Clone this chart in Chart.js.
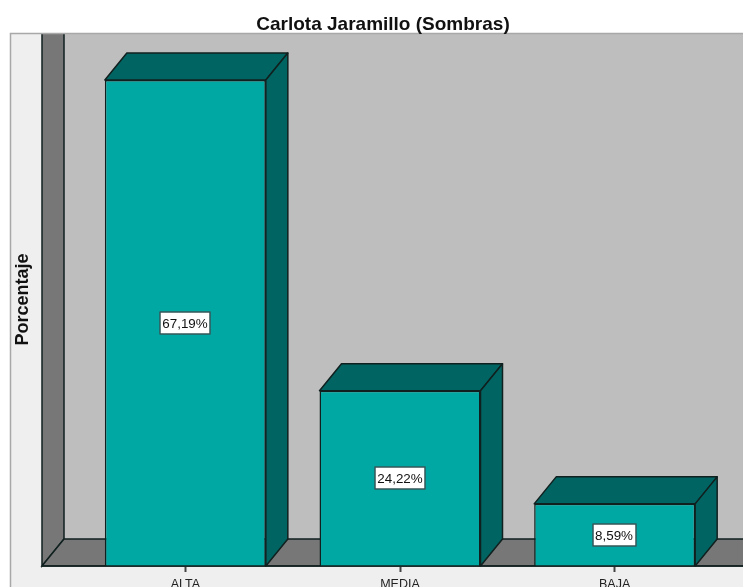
<!DOCTYPE html>
<html>
<head>
<meta charset="utf-8">
<script src="https://cdn.jsdelivr.net/npm/chart.js@4"></script>
<style>
html, body { margin: 0; padding: 0; background: #fff; overflow: hidden; }
canvas { display: block; }
</style>
</head>
<body>
<canvas id="grafico" width="743" height="587"></canvas>
<script>
const categorias = ['ALTA', 'MEDIA', 'BAJA'];
const porcentajes = [67.19, 24.22, 8.59];
const titulo = 'Carlota Jaramillo (Sombras)';
const tituloY = 'Porcentaje';

const fx = 22; // profundidad 3D
const fy = 27;
const linea = '#10201f';

function poligono(ctx, puntos, relleno) {
    ctx.beginPath();
    puntos.forEach((p, i) => i ? ctx.lineTo(p[0], p[1]) : ctx.moveTo(p[0], p[1]));
    ctx.closePath();
    ctx.fillStyle = relleno;
    ctx.fill();
    ctx.stroke();
}

const fondo3d = {
    id: 'fondo3d',
    beforeDraw(chart) {
        const ctx = chart.ctx;
        const top = chart.chartArea.top;
        const base = chart.scales.y.getPixelForValue(0);
        const ancho = chart.width;
        const pared = chart.chartArea.left - 36;
        ctx.save();
        // panel claro
        ctx.fillStyle = '#efefef';
        ctx.fillRect(10, top, ancho - 10, chart.height - top);
        // pared del fondo
        ctx.fillStyle = '#bebebe';
        ctx.fillRect(pared + fx, top, ancho - pared - fx, base - top);
        ctx.strokeStyle = linea;
        ctx.lineWidth = 1.5;
        poligono(ctx, [[pared, top - 4], [pared + fx, top - 4], [pared + fx, base - fy], [pared, base]], '#777777');
        poligono(ctx, [[pared, base], [pared + fx, base - fy], [ancho + 2, base - fy], [ancho + 2, base]], '#777777');
        // tapa lo que sobresale arriba y dibuja el marco
        ctx.fillStyle = '#fff';
        ctx.fillRect(pared - 2, top - 6, fx + 4, 6);
        ctx.strokeStyle = '#a8a8a8';
        ctx.beginPath();
        ctx.moveTo(10.5, chart.height);
        ctx.lineTo(10.5, top + 0.5);
        ctx.lineTo(ancho, top + 0.5);
        ctx.stroke();
        ctx.restore();
    }
};

const barras3d = {
    id: 'barras3d',
    afterDatasetsDraw(chart) {
        const ctx = chart.ctx;
        const meta = chart.getDatasetMeta(0);
        const pared = chart.chartArea.left - 36;
        const base = chart.scales.y.getPixelForValue(0);
        ctx.save();
        ctx.strokeStyle = linea;
        ctx.lineWidth = 1.5;
        ctx.lineJoin = 'round';
        meta.data.forEach((barra, i) => {
            const izq = barra.x - barra.width / 2;
            const der = barra.x + barra.width / 2;
            const arriba = barra.y;
            poligono(ctx, [[izq, arriba], [izq + fx, arriba - fy], [der + fx, arriba - fy], [der, arriba]], '#006562');
            poligono(ctx, [[der, arriba], [der + fx, arriba - fy], [der + fx, base - fy], [der, base]], '#006562');
        });
        // linea base
        ctx.beginPath();
        ctx.moveTo(pared, base);
        ctx.lineTo(chart.width, base);
        ctx.stroke();
        // etiquetas
        ctx.font = '13.4px "Liberation Sans"';
        ctx.textAlign = 'center';
        ctx.textBaseline = 'middle';
        meta.data.forEach((barra, i) => {
            const texto = porcentajes[i].toFixed(2).replace('.', ',') + '%';
            const w = Math.round(ctx.measureText(texto).width) + 5;
            const cx = Math.round(barra.x - 0.5);
            const cy = Math.round((barra.y + base) / 2);
            const izq = Math.round(cx - w / 2);
            ctx.fillStyle = '#fff';
            ctx.strokeStyle = '#35575a';
            ctx.lineWidth = 1.5;
            ctx.fillRect(izq, cy - 11, w, 22);
            ctx.strokeRect(izq, cy - 11, w, 22);
            ctx.fillStyle = '#111';
            ctx.fillText(texto, cx, cy + 1);
        });
        ctx.restore();
    }
};

new Chart(document.getElementById('grafico'), {
    type: 'bar',
    data: {
        labels: categorias,
        datasets: [{
            data: porcentajes,
            backgroundColor: '#00a8a4',
            borderColor: linea,
            borderWidth: 1.5,
            barPercentage: 0.75,
            categoryPercentage: 1
        }]
    },
    options: {
        responsive: false,
        animation: false,
        layout: { padding: { left: 44, right: 21, top: 0, bottom: 0 } },
        plugins: {
            legend: { display: false },
            tooltip: { enabled: false },
            title: {
                display: true,
                text: titulo,
                color: '#111',
                font: { family: '"Liberation Sans"', size: 19, weight: 'bold', lineHeight: 1 },
                padding: { top: 15.5, bottom: -1.5 }
            }
        },
        scales: {
            x: {
                grid: { drawOnChartArea: false, offset: false, tickLength: 6, tickColor: '#444', tickWidth: 2 },
                border: { display: false },
                ticks: {
                    color: '#222',
                    maxRotation: 0,
                    padding: 5,
                    font: { family: '"Liberation Sans"', size: 12.5 }
                },
                afterFit(s) { s.height = 21; }
            },
            y: {
                min: 0,
                max: 73.69,
                grid: { display: false },
                border: { display: false },
                ticks: { display: false },
                title: {
                    display: true,
                    text: tituloY,
                    color: '#111',
                    font: { family: '"Liberation Sans"', size: 18, weight: 'bold', lineHeight: 1.2 },
                    padding: { top: -32, bottom: 0 }
                },
                afterFit(s) { s.width = 34; }
            }
        }
    },
    plugins: [fondo3d, barras3d]
});
</script>
</body>
</html>
